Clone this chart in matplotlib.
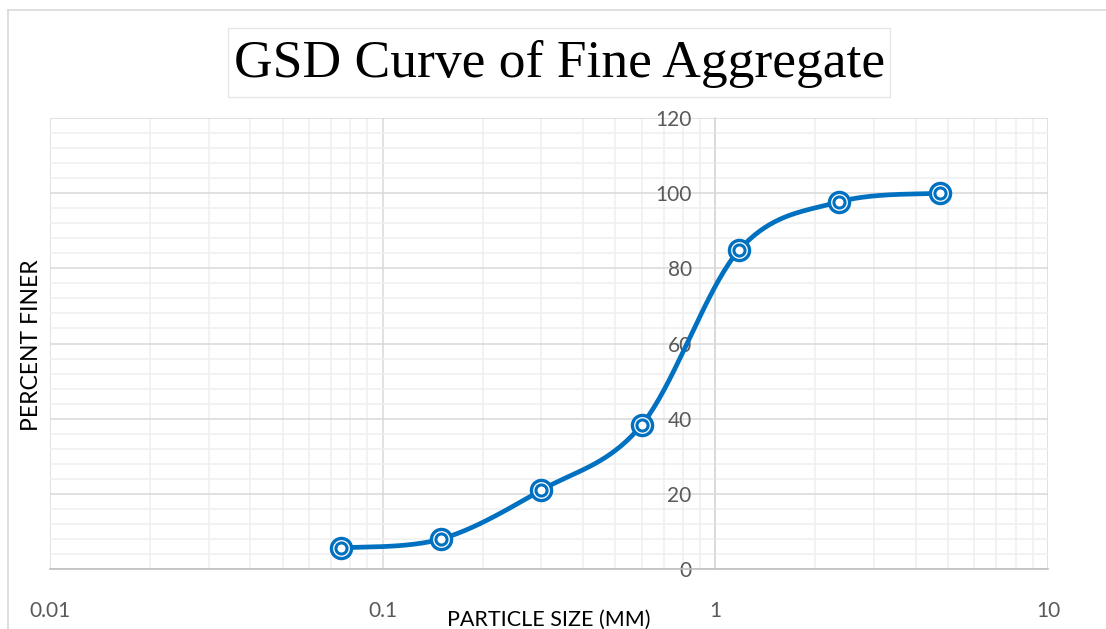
import numpy as np
import matplotlib
matplotlib.use("Agg")
import matplotlib.pyplot as plt
from matplotlib.patches import Rectangle
from matplotlib.lines import Line2D
from matplotlib.ticker import FixedLocator, NullFormatter, FuncFormatter

# ---- data ----
particle_size = [0.075, 0.15, 0.3, 0.6, 1.18, 2.36, 4.75]
percent_finer = [5.6, 8.0, 21.0, 38.3, 84.9, 97.7, 100.0]
x_ticks = [0.01, 0.1, 1, 10]
x_tick_labels = ["0.01", "0.1", "1", "10"]
y_ticks = [0, 20, 40, 60, 80, 100, 120]
title = "GSD Curve of Fine Aggregate"
xlabel = "PARTICLE SIZE (MM)"
ylabel = "PERCENT FINER"

BLUE = "#0070C0"
TXT = "#595959"
FONT = ["Lato", "DejaVu Sans"]


def smooth(xs, ys, n=40):
    # Excel-like smoothed line (Catmull-Rom Bezier) in log-x space
    lx = np.log10(np.asarray(xs, float))
    y = np.asarray(ys, float)
    P = np.column_stack([lx, y])
    m = len(P)
    out = []
    for i in range(m - 1):
        p0 = P[i - 1] if i > 0 else P[i]
        p1 = P[i]
        p2 = P[i + 1]
        p3 = P[i + 2] if i + 2 < m else P[i + 1]
        c1 = p1 + (p2 - p0) / 6.0
        c2 = p2 - (p3 - p1) / 6.0
        t = np.linspace(0, 1, n)[:, None]
        seg = ((1 - t) ** 3) * p1 + 3 * ((1 - t) ** 2) * t * c1 + 3 * (1 - t) * t ** 2 * c2 + t ** 3 * p2
        out.append(seg if i == 0 else seg[1:])
    out = np.vstack(out)
    return 10 ** out[:, 0], out[:, 1]


fig = plt.figure(figsize=(11.06, 6.29), dpi=100)
W, H = 1106, 629

# outer chart border
fig.add_artist(Line2D([8 / W, 8 / W], [0, 1 - 10 / H], color="#d9d9d9", lw=1.2))
fig.add_artist(Line2D([8 / W, 1], [1 - 10 / H, 1 - 10 / H], color="#d9d9d9", lw=1.2))

# title box
fig.add_artist(Rectangle((228 / W, 1 - 97 / H), (890 - 228) / W, (97 - 28) / H,
                         transform=fig.transFigure, fill=False, edgecolor="#e6e6e6", lw=1))
fig.text(560 / W, 1 - 64 / H, title, ha="center", va="center",
         fontsize=38.5, family=["Liberation Serif", "DejaVu Serif"], color="black")

ax = fig.add_axes([50 / W, 1 - 569 / H, (1048 - 50) / W, (569 - 118) / H])
ax.set_xscale("log")
ax.set_xlim(0.01, 10)
ax.set_ylim(0, 120)

# grids
ax.xaxis.set_major_locator(FixedLocator(x_ticks))
minors_x = [m * 10.0 ** k for k in (-2, -1, 0) for m in range(2, 10)]
ax.xaxis.set_minor_locator(FixedLocator(minors_x))
ax.xaxis.set_minor_formatter(NullFormatter())
ax.xaxis.set_major_formatter(FuncFormatter(lambda v, p: x_tick_labels[x_ticks.index(v)] if v in x_ticks else ""))
ax.yaxis.set_major_locator(FixedLocator(y_ticks))
ax.yaxis.set_minor_locator(FixedLocator([v for v in range(0, 121, 4) if v % 20]))
ax.yaxis.set_minor_formatter(NullFormatter())

ax.grid(which="major", color="#d9d9d9", lw=1.1)
ax.grid(which="minor", color="#efefef", lw=1.1)
ax.set_axisbelow(True)

for s in ("top", "right"):
    ax.spines[s].set_visible(False)
ax.spines["bottom"].set_color("#bfbfbf")
ax.spines["bottom"].set_linewidth(1.2)
ax.spines["left"].set_position(("data", 1))
ax.spines["left"].set_color("#d9d9d9")
ax.spines["left"].set_linewidth(1.1)

ax.tick_params(axis="both", which="both", length=0)
ax.tick_params(axis="y", pad=17, labelsize=15, labelcolor=TXT)
ax.tick_params(axis="x", pad=23, labelsize=15, labelcolor=TXT)
for lab in ax.get_xticklabels() + ax.get_yticklabels():
    lab.set_family(FONT)

# curve
sx, sy = smooth(particle_size, percent_finer)
ax.plot(sx, sy, color=BLUE, lw=3.4, solid_capstyle="round", zorder=3)
ax.plot(particle_size, percent_finer, ls="none", marker="o", ms=14.5, mfc="white",
        mec=BLUE, mew=2.4, zorder=4)
ax.plot(particle_size, percent_finer, ls="none", marker="o", ms=8, mfc="white",
        mec=BLUE, mew=2.2, zorder=5)

ax.set_xlabel(xlabel, fontsize=15.5, color="black", family=FONT)
ax.xaxis.set_label_coords(0.5, (569 - 620) / 451)
ax.xaxis.label.set_va("center")
ax.set_ylabel(ylabel, fontsize=16.5, color="black", family=FONT)
ax.yaxis.set_label_coords((32 - 50) / 998, (569 - 345) / 451)
ax.yaxis.label.set_va("center")

fig.savefig("out.png", dpi=100)
